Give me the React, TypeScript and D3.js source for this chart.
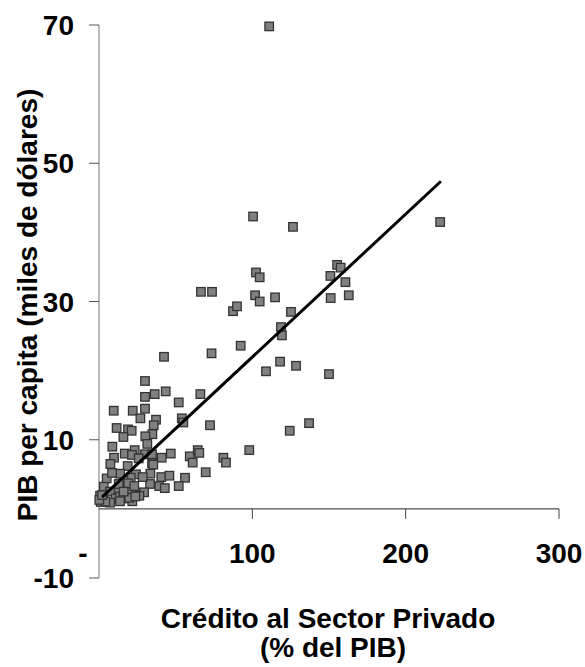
import React from 'react'
import * as d3 from 'd3'

// Crédito al sector privado (% del PIB) vs PIB per capita (miles de dólares)
const creditX = [
  111, 100.5, 126.5, 222.5, 102.4, 104.8, 66.5, 73.7, 101.8, 104.8,
  114.8, 87.4, 90, 125.2, 118.7, 119.3, 155.3, 157.6, 150.9, 160.7,
  162.9, 151.1, 92.4, 118.1, 108.9, 128.5, 150, 124.4, 137, 98,
  73.4, 42.4, 30, 30, 36.3, 43.5, 66.1, 52, 9.6, 22,
  30, 27, 37.2, 54, 55, 72.4, 35.7, 11.5, 18.9, 21.3,
  34.8, 30.2, 15.9, 31.5, 8.7, 23.3, 16.8, 21.5, 30, 34.6,
  46.8, 40.9, 59.2, 64.4, 65.4, 61.1, 81.1, 82.8, 69.6, 9.8,
  7.4, 18.7, 34.6, 35.4, 33.5, 40.6, 45.9, 56.1, 52, 39.3,
  42.9, 33.3, 24.1, 28.5, 20.7, 15.9, 13.7, 5.0, 3.1, 11.1,
  7.2, 10.9, 13.7, 19.1, 24.6, 29.4, 26.3, 21.7, 1.1, 7.2,
  2.8, 15.9, 19.8, 13.7, 0.7, 12.9, 19.1, 23, 8.5, 25.9,
  16.1, 4.1, 23.7, 0.2, 2.0
]
const gdpY = [
  69.8, 42.3, 40.8, 41.5, 34.2, 33.5, 31.4, 31.4, 30.9, 30.0,
  30.6, 28.6, 29.3, 28.5, 26.3, 25.1, 35.3, 34.9, 33.7, 32.8,
  30.9, 30.5, 23.6, 21.3, 19.9, 20.7, 19.5, 11.3, 12.4, 8.5,
  22.5, 22.0, 18.5, 16.2, 16.6, 17.0, 16.6, 15.4, 14.2, 14.2,
  14.5, 13.1, 12.9, 13.1, 12.5, 12.1, 12.1, 11.7, 11.5, 11.3,
  10.8, 10.5, 10.4, 9.4, 9.0, 8.5, 8.0, 7.8, 7.9, 7.9,
  8.0, 7.4, 7.6, 8.5, 8.1, 6.7, 7.4, 6.7, 5.3, 7.4,
  6.5, 6.2, 6.6, 6.4, 5.1, 4.6, 4.8, 4.5, 3.3, 3.3,
  3.0, 3.6, 5.0, 4.6, 4.5, 4.1, 5.1, 4.4, 3.2, 2.6,
  2.5, 1.5, 1.8, 2.7, 2.3, 2.4, 1.9, 1.1, 1.0, 0.9,
  1.5, 1.5, 1.6, 1.1, 1.9, 3.6, 3.7, 3.3, 5.2, 7.3,
  2.5, 1.05, 1.8, 1.3, 2.0
]

// línea de tendencia (extremos)
const trendX = [2, 223]
const trendY = [1.7, 47.4]

const xTicks = [0, 100, 200, 300]
const yTicks = [-10, 10, 30, 50, 70]
const xTickLabels = ['-', '100', '200', '300']

const W = 585
const H = 667
const FONT = 'Liberation Sans, Arial, sans-serif'

export default function App() {
  const x = d3.scaleLinear().domain([0, 300]).range([99, 559])
  const y = d3.scaleLinear().domain([-10, 70]).range([578, 25])

  const points = creditX.map((cx, i) => ({ cx, gy: gdpY[i] }))
  const trend = trendX.map((tx, i) => [tx, trendY[i]] as [number, number])
  const line = d3.line<[number, number]>()
    .x(d => x(d[0]))
    .y(d => y(d[1]))

  const size = 8.5

  return (
    <svg
      width={W}
      height={H}
      style={{ position: 'absolute', left: 0, top: 0, background: '#fff' }}
      fontFamily={FONT}
      fontWeight="bold"
    >
      {/* Eje Y */}
      <line x1={x(0)} x2={x(0)} y1={y(70)} y2={y(-10)} stroke="#777" strokeWidth={1} />
      {yTicks.map(t => (
        <g key={'y' + t}>
          <line x1={x(0) - 10} x2={x(0)} y1={y(t)} y2={y(t)} stroke="#555" strokeWidth={1} />
          <text x={74} y={y(t)} dy="0.36em" textAnchor="end" fontSize={28} fill="#000">
            {t}
          </text>
        </g>
      ))}

      {/* Eje X en y = 0 */}
      <line x1={x(0)} x2={x(300)} y1={y(0)} y2={y(0)} stroke="#222" strokeWidth={1} />
      {xTicks.map((t, i) => (
        <g key={'x' + t}>
          {t > 0 && (
            <line x1={x(t)} x2={x(t)} y1={y(0)} y2={y(0) + 10} stroke="#444" strokeWidth={1} />
          )}
          <text
            x={t === 0 ? x(t) - 16 : x(t)}
            y={563}
            textAnchor="middle"
            fontSize={28}
            fill="#000"
          >
            {xTickLabels[i]}
          </text>
        </g>
      ))}

      {/* Puntos */}
      {points.map((p, i) => (
        <rect
          key={i}
          x={x(p.cx) - size / 2}
          y={y(p.gy) - size / 2}
          width={size}
          height={size}
          fill="#808080"
          stroke="#333"
          strokeWidth={1.3}
        />
      ))}

      {/* Tendencia */}
      <path d={line(trend) ?? ''} fill="none" stroke="#000" strokeWidth={3} />

      {/* Títulos */}
      <text
        transform={`translate(37,305) rotate(-90)`}
        textAnchor="middle"
        fontSize={28}
        fill="#000"
      >
        PIB per capita (miles de dólares)
      </text>
      <text x={328} y={628} textAnchor="middle" fontSize={28} fill="#000">
        Crédito al Sector Privado
      </text>
      <text x={333} y={657} textAnchor="middle" fontSize={28} fill="#000">
        (% del PIB)
      </text>
    </svg>
  )
}
